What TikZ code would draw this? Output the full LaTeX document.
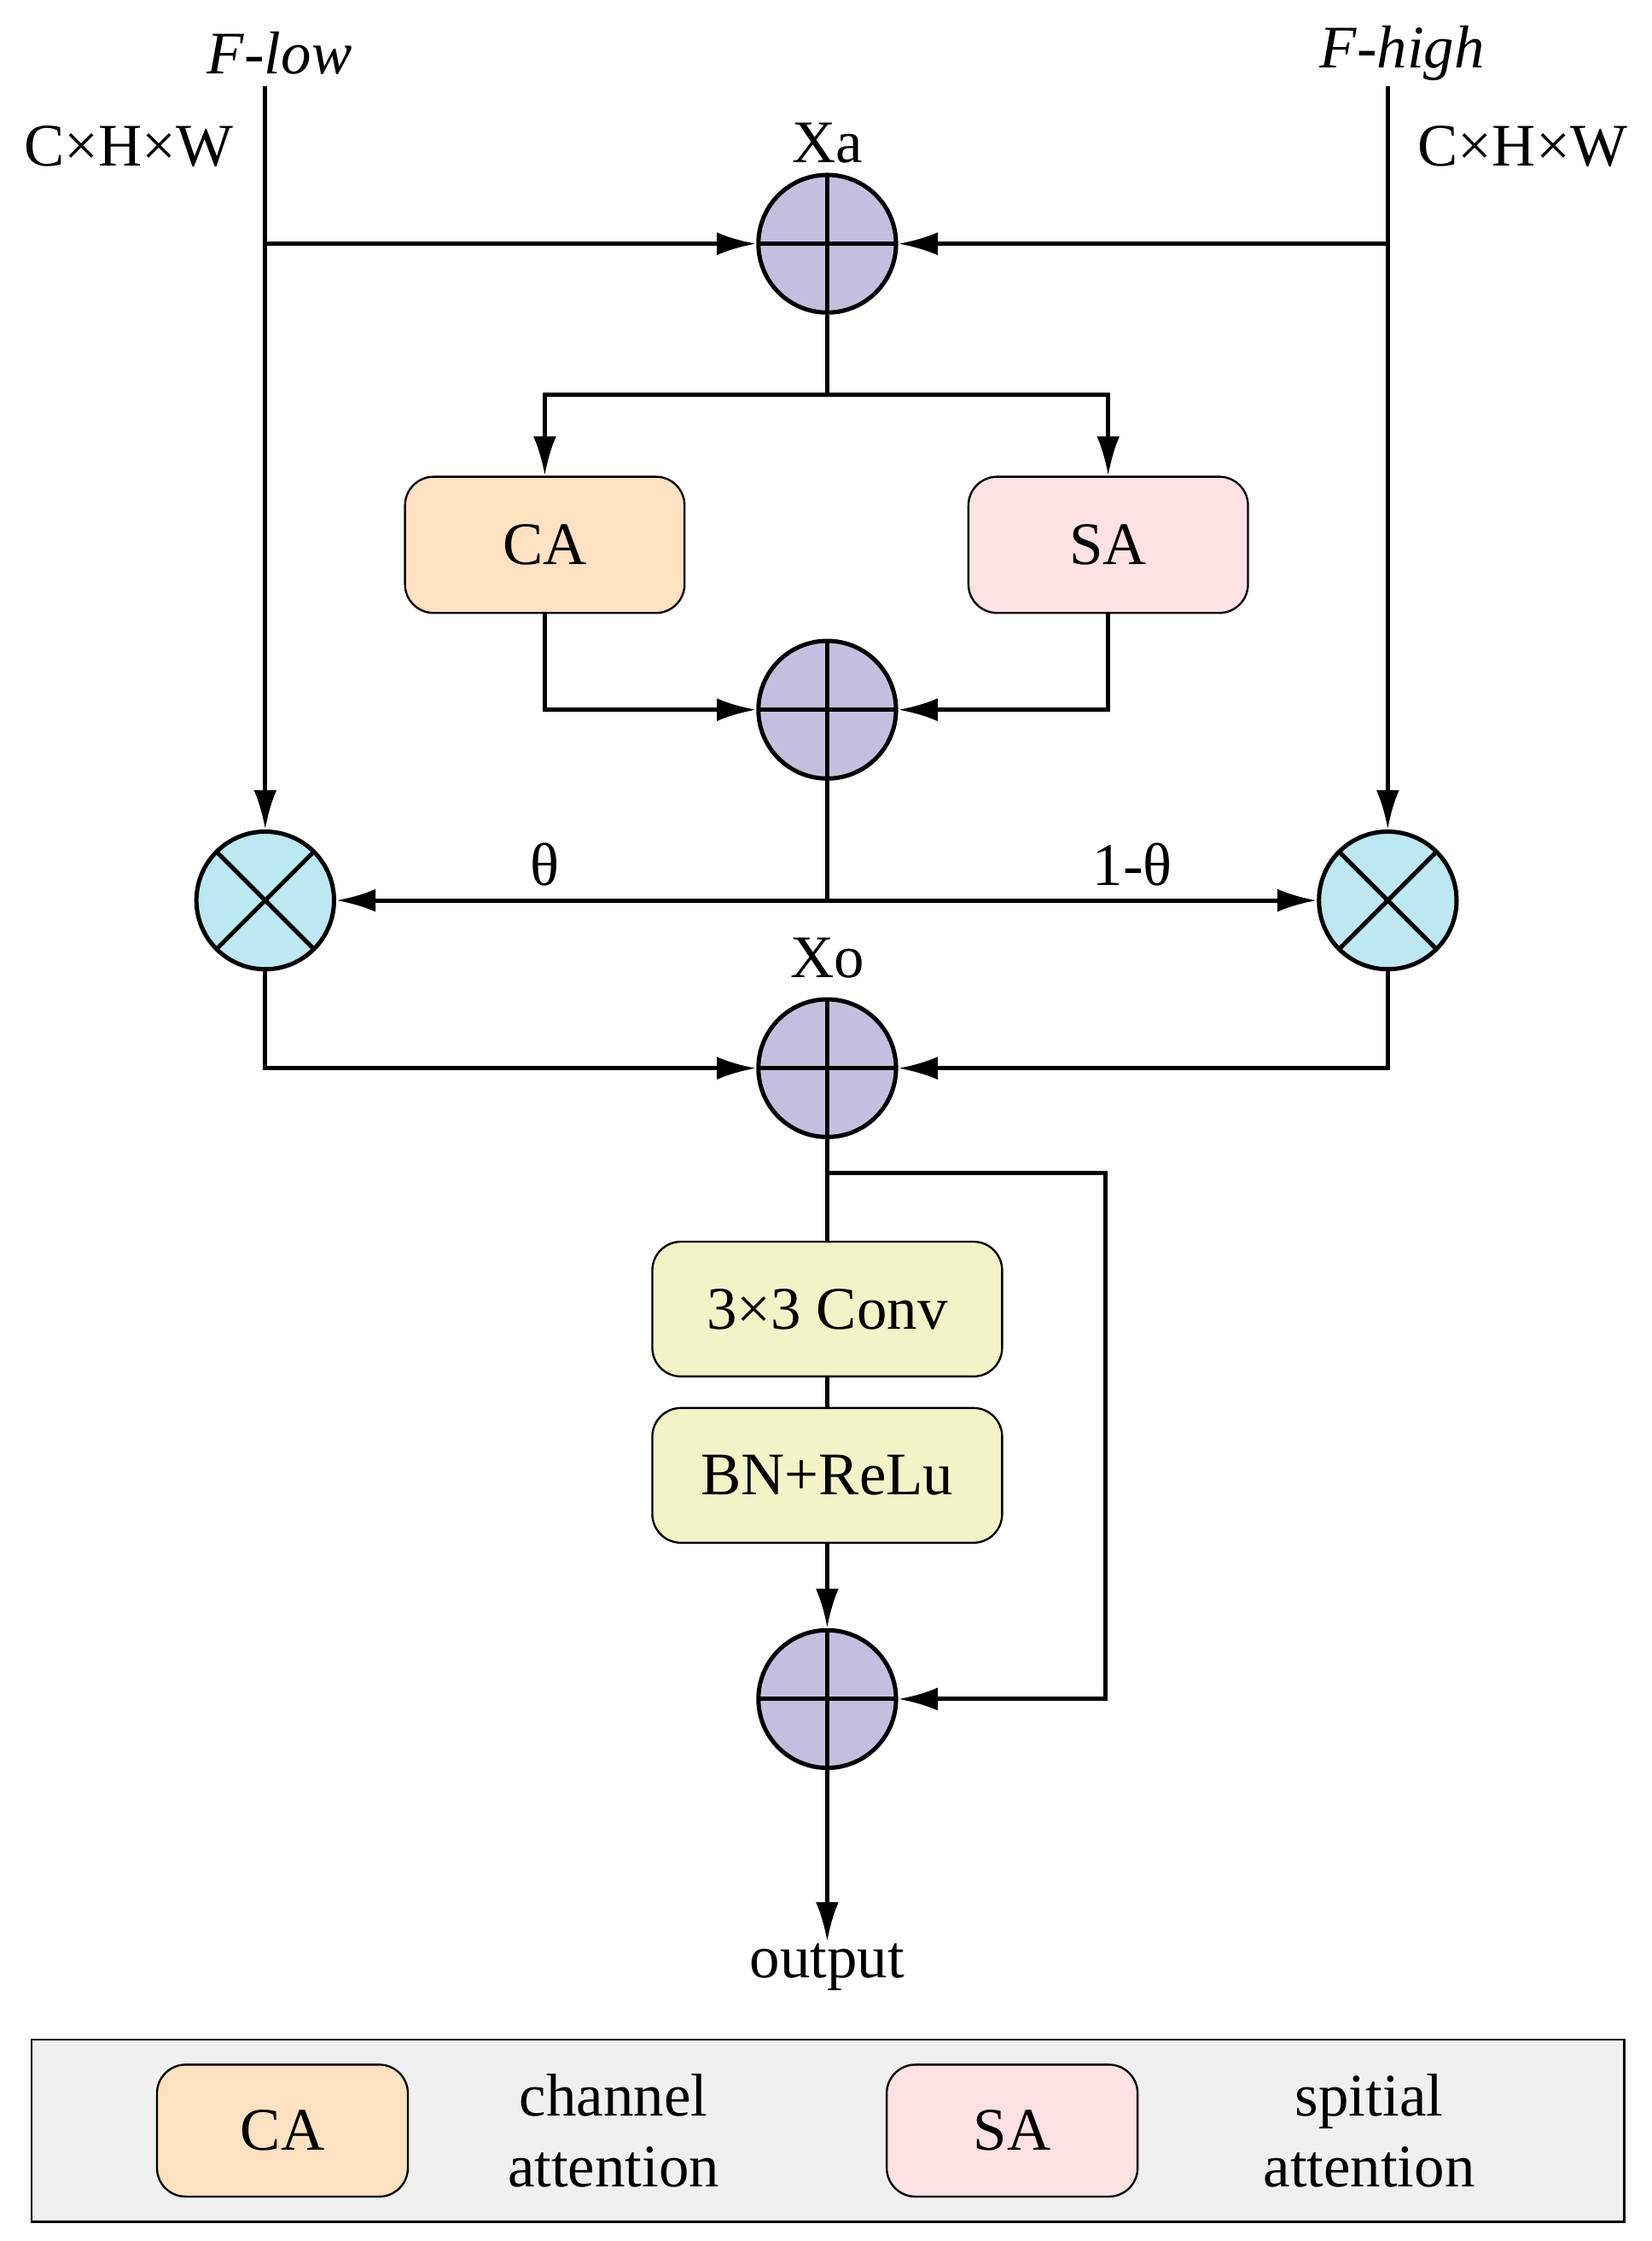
\documentclass[tikz,border=0pt]{standalone}
\usepackage{fontspec}
\setmainfont{Liberation Serif}
\usetikzlibrary{arrows.meta}
\definecolor{addc}{HTML}{C5BFDF}
\definecolor{mulc}{HTML}{BDE7F3}
\definecolor{cac}{HTML}{FDE1C2}
\definecolor{sac}{HTML}{FDE1E3}
\definecolor{convc}{HTML}{F3F3C8}
\definecolor{legc}{HTML}{F0F0F0}
\begin{document}
\begin{tikzpicture}[line width=1.7pt,
  trans/.style={-{Latex[length=0.55cm,width=0.32cm]}},
  add/.style={draw,circle,fill=addc,minimum size=1.92cm,inner sep=0pt,
    path picture={\draw (path picture bounding box.north) -- (path picture bounding box.south)
      (path picture bounding box.west) -- (path picture bounding box.east);}},
  mul/.style={draw,circle,fill=mulc,minimum size=1.92cm,inner sep=0pt,
    path picture={\draw ([shift={(-45:0.96)}]path picture bounding box.center) -- ([shift={(135:0.96)}]path picture bounding box.center)
      ([shift={(45:0.96)}]path picture bounding box.center) -- ([shift={(225:0.96)}]path picture bounding box.center);}},
  block/.style={draw,rounded corners=0.4cm,line width=0.8pt,minimum width=3.9cm,minimum height=1.9cm,font=\fontsize{24}{28}\selectfont},
  lbl/.style={font=\fontsize{24}{28}\selectfont,inner sep=0pt}]
\useasboundingbox (0,0) rectangle (23.04,-31.26);
% inputs
\node[lbl,font=\fontsize{24}{28}\selectfont\itshape](flow) at (3.9,-0.74) {F-low};
\node[lbl,font=\fontsize{24}{28}\selectfont\itshape](fhigh) at (19.56,-0.74) {F-high};
\node[lbl](dl) at (1.8,-2.04) {C×H×W};
\node[lbl](dr) at (21.24,-2.04) {C×H×W};
\coordinate (tl) at (3.7,-1.2);
\coordinate (tr) at (19.36,-1.2);
% operators
\node[add](xa) at (11.54,-3.4) {};
\node[lbl](xal) at (11.54,-2.0) {Xa};
\node[block,fill=cac](ca) at (7.6,-7.6) {CA};
\node[block,fill=sac](sa) at (15.46,-7.6) {SA};
\node[add](s2) at (11.54,-9.9) {};
\node[mul](ml) at (3.7,-12.56) {};
\node[mul](mr) at (19.36,-12.56) {};
\node[lbl](th) at (7.6,-12.06) {θ};
\node[lbl](th2) at (15.8,-12.06) {1-θ};
\node[add](xo) at (11.54,-14.9) {};
\node[lbl](xol) at (11.54,-13.36) {Xo};
\node[block,fill=convc,minimum width=4.88cm,minimum height=1.88cm](conv) at (11.54,-18.26) {3×3 Conv};
\node[block,fill=convc,minimum width=4.88cm,minimum height=1.88cm](bn) at (11.54,-20.58) {BN+ReLu};
\node[add](s4) at (11.54,-23.7) {};
\node[lbl](out) at (11.54,-27.44) {output};
\coordinate (split) at (11.54,-5.5);
\coordinate (mid) at (11.54,-12.56);
\coordinate (skip) at (11.54,-16.36);
% connectors
\draw[trans] (tl) -- (ml);
\draw[trans] (tr) -- (mr);
\draw[trans] (tl |- xa) -- (xa);
\draw[trans] (tr |- xa) -- (xa);
\draw (xa) -- (split);
\draw[trans] (split) -| (ca);
\draw[trans] (split) -| (sa);
\draw[trans] (ca) |- (s2);
\draw[trans] (sa) |- (s2);
\draw (s2) -- (mid);
\draw[trans] (mid) -- (ml);
\draw[trans] (mid) -- (mr);
\draw[trans] (ml) |- (xo);
\draw[trans] (mr) |- (xo);
\draw (xo) -- (conv);
\draw (conv) -- (bn);
\draw[trans] (bn) -- (s4);
\draw[trans] (skip) -| (15.42,-23.7) -- (s4);
\draw[trans] (s4) -- (out.north);
% legend
\node[draw,fill=legc,line width=0.8pt,minimum width=22.22cm,minimum height=2.54cm](leg) at (11.55,-29.72) {};
\node[block,fill=cac,minimum width=3.5cm,minimum height=1.84cm](lca) at (3.94,-29.72) {CA};
\node[lbl,align=center](lcat) at (8.56,-29.72) {channel\\attention};
\node[block,fill=sac,minimum width=3.5cm,minimum height=1.84cm](lsa) at (14.12,-29.72) {SA};
\node[lbl,align=center](lsat) at (19.1,-29.72) {spitial\\attention};
\end{tikzpicture}
\end{document}
